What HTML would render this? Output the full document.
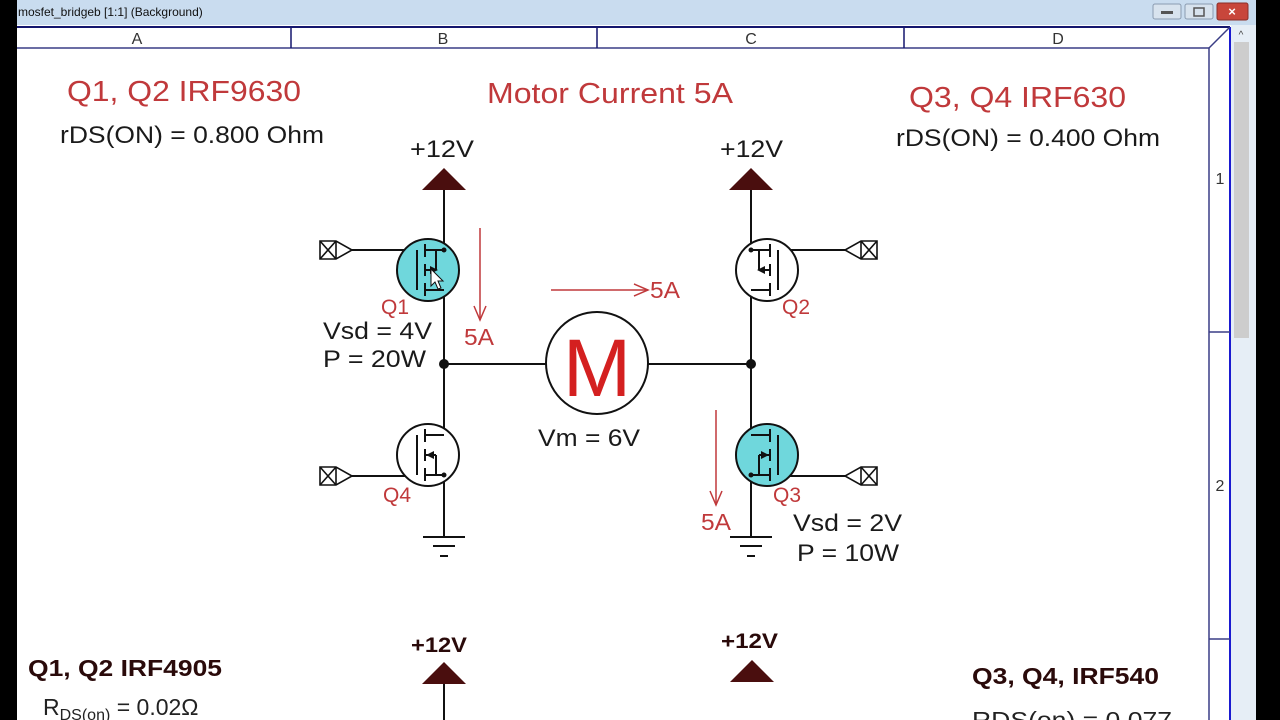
<!DOCTYPE html>
<html><head><meta charset="utf-8"><style>
html,body{margin:0;padding:0;width:1280px;height:720px;overflow:hidden;background:#000}
svg{display:block;font-family:"Liberation Sans",Arial,sans-serif}
</style></head><body>
<svg width="1280" height="720" viewBox="0 0 1280 720" xmlns="http://www.w3.org/2000/svg">
<defs>
<g id="pfet" stroke="#111" stroke-width="2" fill="none">
  <line x1="-11" y1="-20" x2="-11" y2="20"/>
  <line x1="-3" y1="-26" x2="-3" y2="-13"/>
  <line x1="-3" y1="-6" x2="-3" y2="6"/>
  <line x1="-3" y1="13" x2="-3" y2="26"/>
  <line x1="-3" y1="-20" x2="16" y2="-20"/>
  <line x1="-3" y1="20" x2="16" y2="20"/>
  <line x1="-3" y1="0" x2="8" y2="0"/>
  <line x1="8" y1="0" x2="8" y2="-20"/>
  <circle cx="16" cy="-20" r="2.5" fill="#111" stroke="none"/>
</g>
<g id="conn" stroke="#111" stroke-width="1.6" fill="#fff">
  <path d="M0,-9 H16 L32,0 L16,9 H0 Z"/>
  <line x1="0" y1="-9" x2="16" y2="9"/><line x1="0" y1="9" x2="16" y2="-9"/>
  <line x1="16" y1="-9" x2="16" y2="9"/>
</g>
<g id="gnd" stroke="#111" stroke-width="2">
  <line x1="-21" y1="0" x2="21" y2="0"/><line x1="-11" y1="9" x2="11" y2="9"/><line x1="-4" y1="19" x2="4" y2="19"/>
</g>
</defs>

<rect x="0" y="0" width="1280" height="25" fill="#c9dcef"/>
<rect x="0" y="0" width="17" height="720" fill="#000"/>
<text x="18" y="16" font-size="12" fill="#111">mosfet_bridgeb [1:1] (Background)</text>
<rect x="1153" y="4" width="28" height="15" rx="2" fill="#d8e3ee" stroke="#8a9bb0"/>
<rect x="1185" y="4" width="28" height="15" rx="2" fill="#d8e3ee" stroke="#8a9bb0"/>
<rect x="1217" y="3" width="31" height="17" rx="2" fill="#c8463b" stroke="#8a2f28"/>
<text x="1232" y="16" font-size="13" fill="#fff" text-anchor="middle" font-weight="bold">×</text>
<rect x="1161" y="11" width="12" height="3" fill="#555"/>
<rect x="1194" y="8" width="10" height="8" fill="none" stroke="#555" stroke-width="1.5"/>
<rect x="1256" y="0" width="24" height="720" fill="#000"/>
<rect x="17" y="25" width="1239" height="695" fill="#fff"/>
<rect x="1231" y="25" width="25" height="695" fill="#e6eef6"/>
<rect x="1234" y="42" width="15" height="296" fill="#cdcdcd"/>
<text x="1241" y="38" font-size="10" fill="#444" text-anchor="middle">^</text>

<rect x="17" y="26" width="1213" height="22" fill="#fff"/>
<line x1="17" y1="27" x2="1230" y2="27" stroke="#14166e" stroke-width="2"/>
<line x1="17" y1="48" x2="1209" y2="48" stroke="#3a3d86" stroke-width="1.5"/>
<line x1="1209" y1="48" x2="1209" y2="720" stroke="#3a3d86" stroke-width="1.5"/>
<line x1="1230" y1="27" x2="1230" y2="720" stroke="#1a1ad0" stroke-width="2"/>
<line x1="1209" y1="48" x2="1230" y2="27" stroke="#3a3d86" stroke-width="1.5"/>
<line x1="291" y1="27" x2="291" y2="48" stroke="#14166e" stroke-width="1.5"/>
<line x1="597" y1="27" x2="597" y2="48" stroke="#14166e" stroke-width="1.5"/>
<line x1="904" y1="27" x2="904" y2="48" stroke="#14166e" stroke-width="1.5"/>
<line x1="1209" y1="332" x2="1230" y2="332" stroke="#3a3d86" stroke-width="1.5"/>
<line x1="1209" y1="639" x2="1230" y2="639" stroke="#3a3d86" stroke-width="1.5"/>
<g font-size="16" fill="#333" text-anchor="middle">
<text x="137" y="44">A</text><text x="443" y="44">B</text><text x="751" y="44">C</text><text x="1058" y="44">D</text>
<text x="1220" y="184">1</text><text x="1220" y="491">2</text>
</g>

<g fill="#c0393b" font-size="29">
<text x="67" y="101" textLength="234" lengthAdjust="spacingAndGlyphs">Q1, Q2 IRF9630</text>
<text x="487" y="103" textLength="246" lengthAdjust="spacingAndGlyphs">Motor Current 5A</text>
<text x="909" y="107" textLength="217" lengthAdjust="spacingAndGlyphs">Q3, Q4 IRF630</text>
</g>
<g fill="#1a1a1a" font-size="24">
<text x="60" y="143" textLength="264" lengthAdjust="spacingAndGlyphs">rDS(ON) = 0.800 Ohm</text>
<text x="896" y="146" textLength="264" lengthAdjust="spacingAndGlyphs">rDS(ON) = 0.400 Ohm</text>
<text x="410" y="157" textLength="64" lengthAdjust="spacingAndGlyphs">+12V</text>
<text x="720" y="157" textLength="63" lengthAdjust="spacingAndGlyphs">+12V</text>
<text x="323" y="339" textLength="109" lengthAdjust="spacingAndGlyphs">Vsd = 4V</text>
<text x="323" y="367" textLength="103" lengthAdjust="spacingAndGlyphs">P = 20W</text>
<text x="538" y="446" textLength="102" lengthAdjust="spacingAndGlyphs">Vm = 6V</text>
<text x="793" y="531" textLength="109" lengthAdjust="spacingAndGlyphs">Vsd = 2V</text>
<text x="797" y="561" textLength="102" lengthAdjust="spacingAndGlyphs">P = 10W</text>
<text x="411" y="652" font-weight="bold" font-size="21" fill="#2a0a0a" textLength="56" lengthAdjust="spacingAndGlyphs">+12V</text>
<text x="721" y="648" font-weight="bold" font-size="21" fill="#2a0a0a" textLength="57" lengthAdjust="spacingAndGlyphs">+12V</text>
</g>
<g fill="#2a0a0a" font-weight="bold" font-size="23">
<text x="28" y="676" textLength="194" lengthAdjust="spacingAndGlyphs">Q1, Q2 IRF4905</text>
<text x="972" y="684" textLength="187" lengthAdjust="spacingAndGlyphs">Q3, Q4, IRF540</text>
</g>
<text x="43" y="715" font-size="23" fill="#222">R<tspan font-size="16" dy="5">DS(on)</tspan><tspan dy="-5"> = 0.02Ω</tspan></text>
<text x="972" y="728" font-size="23" fill="#222" textLength="200" lengthAdjust="spacingAndGlyphs">RDS(on) = 0.077</text>

<g fill="#4a0e0e">
<path d="M422,190 L444,168 L466,190 Z"/>
<path d="M729,190 L751,168 L773,190 Z"/>
<path d="M422,684 L444,662 L466,684 Z"/>
<path d="M730,682 L752,660 L774,682 Z"/>
</g>
<g stroke="#111" stroke-width="2" fill="none">
<line x1="444" y1="190" x2="444" y2="537"/>
<line x1="751" y1="190" x2="751" y2="537"/>
<line x1="444" y1="684" x2="444" y2="720"/>
<line x1="444" y1="364" x2="546" y2="364"/>
<line x1="648" y1="364" x2="751" y2="364"/>
<line x1="352" y1="250" x2="417" y2="250"/>
<line x1="352" y1="476" x2="417" y2="476"/>
<line x1="777" y1="250" x2="845" y2="250"/>
<line x1="777" y1="476" x2="845" y2="476"/>
</g>
<circle cx="444" cy="364" r="5" fill="#111"/>
<circle cx="751" cy="364" r="5" fill="#111"/>

<circle cx="428" cy="270" r="31" fill="#6fd7dc" stroke="#111" stroke-width="2"/>
<circle cx="767" cy="270" r="31" fill="#fff" stroke="#111" stroke-width="2"/>
<circle cx="428" cy="455" r="31" fill="#fff" stroke="#111" stroke-width="2"/>
<circle cx="767" cy="455" r="31" fill="#6fd7dc" stroke="#111" stroke-width="2"/>
<use href="#pfet" transform="translate(428,270)"/>
<use href="#pfet" transform="translate(767,270) scale(-1,1)"/>
<use href="#pfet" transform="translate(428,455) scale(1,-1)"/>
<use href="#pfet" transform="translate(767,455) scale(-1,-1)"/>
<g fill="#111">
<path d="M438,270 L430,266 L430,274 Z"/>
<path d="M757,270 L765,266 L765,274 Z"/>
<path d="M426,455 L434,451 L434,459 Z"/>
<path d="M769,455 L761,451 L761,459 Z"/>
</g>
<use href="#conn" transform="translate(320,250)"/>
<use href="#conn" transform="translate(320,476)"/>
<use href="#conn" transform="translate(877,250) scale(-1,1)"/>
<use href="#conn" transform="translate(877,476) scale(-1,1)"/>
<use href="#gnd" transform="translate(444,537)"/>
<use href="#gnd" transform="translate(751,537)"/>

<circle cx="597" cy="363" r="51" fill="#fff" stroke="#111" stroke-width="2"/>
<text x="597" y="396" font-size="82" fill="#d42020" text-anchor="middle">M</text>

<g stroke="#c0393b" stroke-width="1.5" fill="none">
<line x1="480" y1="228" x2="480" y2="320"/><path d="M474,306 L480,320 L486,306"/>
<line x1="551" y1="290" x2="648" y2="290"/><path d="M634,284 L648,290 L634,296"/>
<line x1="716" y1="410" x2="716" y2="505"/><path d="M710,491 L716,505 L722,491"/>
</g>
<g fill="#c0393b" font-size="23">
<text x="464" y="345" textLength="30" lengthAdjust="spacingAndGlyphs">5A</text>
<text x="650" y="298" textLength="30" lengthAdjust="spacingAndGlyphs">5A</text>
<text x="701" y="530" textLength="30" lengthAdjust="spacingAndGlyphs">5A</text>
<text x="381" y="314" font-size="21">Q1</text>
<text x="782" y="314" font-size="21">Q2</text>
<text x="383" y="502" font-size="21">Q4</text>
<text x="773" y="502" font-size="21">Q3</text>
</g>
<path d="M431,269 L431,286 L435,282 L438,289 L441,288 L438,281 L443,281 Z" fill="#fff" stroke="#111" stroke-width="1"/>
</svg>
</body></html>
